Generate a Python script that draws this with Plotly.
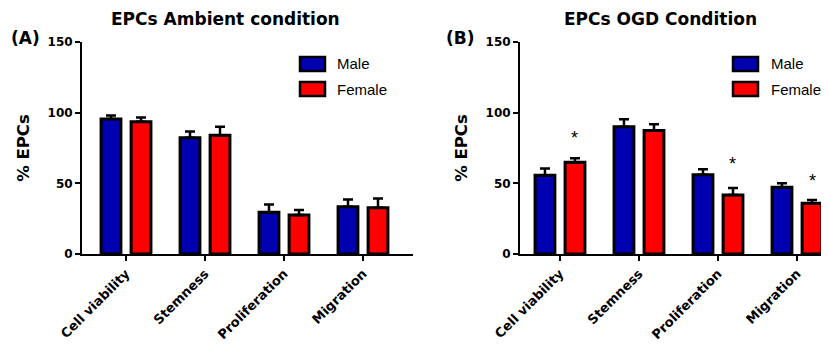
import plotly.graph_objects as go

categories = ["Cell viability", "Stemness", "Proliferation", "Migration"]

ambient_male = [95.5, 82.3, 29.5, 33.5]
ambient_male_err = [2.5, 4.3, 5.6, 5.0]
ambient_female = [93.6, 84.0, 27.6, 32.8]
ambient_female_err = [3.0, 6.0, 3.5, 6.4]

ogd_male = [55.8, 90.0, 56.1, 47.2]
ogd_male_err = [4.7, 5.3, 3.8, 2.8]
ogd_female = [64.9, 87.3, 41.8, 35.9]
ogd_female_err = [2.8, 4.5, 4.9, 2.3]

ogd_star_cats = ["Cell viability", "Proliferation", "Migration"]
ogd_star_y = [82.0, 63.7, 51.9]

y_ticks = [0, 50, 100, 150]

BLUE = "#0000B0"
RED = "#FF0000"
BOLD = "DejaVu Sans, Verdana, sans-serif"
REG = "Liberation Sans, Arial, sans-serif"

# page body has an 8px margin; map reference pixels onto the figure
OFF = 8
W, H = 829 - OFF, 344 - OFF


def px_x(p):
    return (p - OFF) / W


def px_y(p):
    return 1 - (p - OFF) / H


fig = go.Figure()


def add_bars(xa, ya, male, male_err, female, female_err):
    for vals, errs, col, name in [(male, male_err, BLUE, "Male"), (female, female_err, RED, "Female")]:
        fig.add_trace(go.Bar(
            x=categories, y=vals, name=name, xaxis=xa, yaxis=ya,
            marker=dict(color=col, line=dict(color="black", width=3)),
            error_y=dict(type="data", array=errs, arrayminus=[0] * len(errs),
                         symmetric=False, color="black", thickness=2.5, width=5),
            showlegend=False,
        ))


add_bars("x", "y", ambient_male, ambient_male_err, ambient_female, ambient_female_err)
add_bars("x2", "y2", ogd_male, ogd_male_err, ogd_female, ogd_female_err)

# significance stars (placed on the female bars)
for c, yv in zip(ogd_star_cats, ogd_star_y):
    fig.add_annotation(x=c, y=yv, xref="x2", yref="y2", text="*", showarrow=False,
                       xshift=15, font=dict(family=REG, size=18, color="black"),
                       yanchor="middle")

ydom = [px_y(254), px_y(42)]

axis_common = dict(
    showline=True, linecolor="black", linewidth=2, ticks="outside", ticklen=5,
    tickwidth=2, tickcolor="black", showgrid=False, zeroline=False, automargin=False,
)
xtickfont = dict(family=BOLD, size=13, color="black", weight="bold")
ytickfont = dict(family=BOLD, size=12, color="black", weight="bold")
ytitle = dict(text="% EPCs", font=dict(family=BOLD, size=16.5, color="black", weight="bold"),
              standoff=14)

fig.update_layout(
    width=W, height=H, margin=dict(l=0, r=0, t=0, b=0, autoexpand=False),
    paper_bgcolor="white", plot_bgcolor="white",
    barmode="group", bargap=0.24, bargroupgap=0.34,
    xaxis=dict(domain=[px_x(82), px_x(413)], range=[-0.557, 3.633], anchor="y",
               tickangle=-45, tickfont=xtickfont, **axis_common),
    yaxis=dict(domain=ydom, range=[0, 150], tickvals=y_ticks, anchor="x",
               tickfont=ytickfont, title=ytitle, **axis_common),
    xaxis2=dict(domain=[px_x(520), 1.0], range=[-0.506, 3.405], anchor="y2",
                tickangle=-45, tickfont=xtickfont, **axis_common),
    yaxis2=dict(domain=ydom, range=[0, 150], tickvals=y_ticks, anchor="x2",
                tickfont=ytickfont, title=ytitle, **axis_common),
)

# titles and panel labels
for txt, xc in [("EPCs Ambient condition", 225), ("EPCs OGD Condition", 660)]:
    fig.add_annotation(x=px_x(xc), y=px_y(19), xref="paper", yref="paper", text=txt,
                       showarrow=False, xanchor="center", yanchor="middle",
                       font=dict(family=BOLD, size=17, color="black", weight="bold"))
for txt, xl in [("(A)", 9), ("(B)", 444)]:
    fig.add_annotation(x=px_x(xl), y=px_y(38), xref="paper", yref="paper", text=txt,
                       showarrow=False, xanchor="left", yanchor="middle",
                       font=dict(family=BOLD, size=17, color="black", weight="bold"))

# legends (drawn boxes + labels)
for box_x, txt_x in [(300, 335), (733, 769)]:
    for yc, col, name in [(64, BLUE, "Male"), (89, RED, "Female")]:
        fig.add_shape(type="rect", xref="paper", yref="paper",
                      x0=px_x(box_x), x1=px_x(box_x + 25), y0=px_y(yc + 7), y1=px_y(yc - 7),
                      fillcolor=col, line=dict(color="black", width=2.5))
        fig.add_annotation(x=px_x(txt_x), y=px_y(yc), xref="paper", yref="paper", text=name,
                           showarrow=False, xanchor="left", yanchor="middle",
                           font=dict(family=REG, size=15, color="black"))

fig.write_html("out.html")
